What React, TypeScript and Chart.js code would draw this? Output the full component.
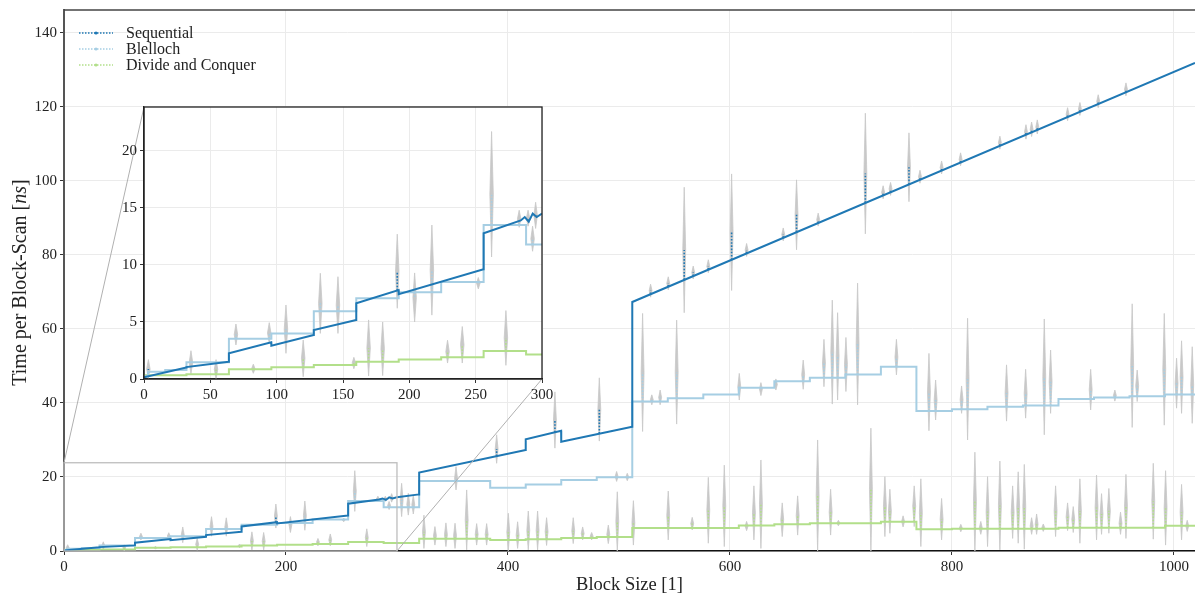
import React, { useEffect, useRef } from "react";
import { Chart, registerables } from "chart.js";

Chart.register(...registerables);

// ---------- data ----------
const xTicks = [0, 200, 400, 600, 800, 1000];
const yTicks = [0, 20, 40, 60, 80, 100, 120, 140];
const insetXTicks = [0, 50, 100, 150, 200, 250, 300];
const insetYTicks = [0, 5, 10, 15, 20];
const xRange = [0, 1019];
const yRange = [0, 146.2];
const zoomXRange = [0, 300];
const zoomYRange = [0, 23.85];

const seriesNames = ["Sequential", "Blelloch", "Divide and Conquer"];
const xTitle = "Block Size [1]";
const yTitleParts = ["Time per Block-Scan [", "ns", "]"];

// Sequential: piecewise linear mean [block size, ns]
const sequential: [number, number][] = [
  [0, 0.15], [31.9, 1.0], [32, 1.05], [63.9, 1.52], [64, 2.25], [95.9, 3.22], [96, 2.92],
  [127.9, 3.86], [128, 4.3], [159.9, 5.18], [160, 6.64], [191.9, 7.8], [192, 7.43],
  [255.9, 9.62], [256, 12.78], [284, 13.9], [287, 14.2], [290, 13.8], [293, 14.5],
  [296, 14.2], [300, 14.5], [319.9, 15.3], [320, 21.2], [415.9, 27.3], [416, 30.2],
  [447.9, 32.5], [448, 29.5], [511.9, 33.6], [512, 67.3], [1019, 131.9],
];

// Blelloch: step levels [start block size, ns]
const blelloch: [number, number][] = [
  [0, 0.25], [3, 0.64], [16, 0.8], [32, 1.46], [64, 3.54], [96, 4.0], [128, 5.94],
  [160, 7.08], [192, 7.6], [224, 8.5], [256, 13.5], [288, 11.8], [320, 18.9],
  [384, 17.1], [416, 18.0], [448, 19.2], [480, 19.9], [512, 40.4], [544, 41.3],
  [576, 42.3], [608, 44.1], [640, 45.9], [672, 46.8], [704, 47.7], [736, 49.8],
  [768, 37.8], [800, 38.3], [832, 39.0], [864, 39.3], [896, 41.1], [928, 41.5],
  [960, 41.8], [992, 42.3], [1019, 42.3],
];

// Divide and Conquer: step levels [start block size, ns]
const divideConquer: [number, number][] = [
  [0, 0.32], [32, 0.42], [64, 0.85], [96, 1.02], [128, 1.23], [160, 1.52], [192, 1.72],
  [224, 1.9], [256, 2.45], [288, 2.15], [320, 3.3], [384, 3.0], [416, 3.2], [448, 3.5],
  [480, 3.8], [512, 6.2], [608, 6.9], [640, 7.2], [672, 7.5], [736, 7.9], [768, 5.85],
  [800, 6.0], [896, 6.3], [992, 6.8], [1019, 6.8],
];

// variance spikes [block size, low, high]
const sequentialSpikes: [number, number, number][] = [
  [3.3, 0.05, 1.7], [190.9, 6.2, 12.7], [289.5, 13.4, 14.8], [295.2, 13.2, 15.5],
  [389.8, 23.7, 31.4], [442.3, 27.8, 43], [482.3, 29.7, 46.8],
  [528.5, 68.6, 72.1], [544.4, 70.6, 74.1], [558.8, 64.4, 98.3], [566.9, 73.5, 77.0],
  [580.5, 75.2, 78.7], [601.5, 70.4, 101.9], [615, 79.6, 83.1], [648, 83.8, 87.3],
  [660, 81.4, 100.3], [679.5, 87.8, 91.3], [722, 85.7, 118.3], [738, 95.2, 98.7],
  [744.7, 96.1, 99.6], [761.3, 94.4, 113], [771.2, 99.4, 102.9], [790.7, 101.9, 105.4],
  [807.8, 104.1, 107.6], [843.2, 108.6, 112.1], [866.7, 111.3, 115.2],
  [871.8, 112.0, 115.9], [876.9, 112.7, 116.5], [904.2, 116.3, 119.8],
  [915.3, 117.7, 121.2], [931.8, 119.8, 123.3], [956.8, 123.0, 126.5],
];

const blellochSpikes: [number, number, number][] = [
  [35.4, 0.44, 2.48], [69.3, 2.98, 4.82], [94.4, 3.13, 4.94], [107, 2.25, 6.49],
  [132.9, 4.0, 9.27], [146.2, 4.0, 8.97], [204, 5.0, 9.3], [217, 5.6, 13.5],
  [252, 7.9, 8.9], [262, 10.7, 21.7], [282.8, 13.3, 14.8], [292.9, 11.2, 13.4],
  [304.2, 9.3, 18.3], [310.2, 9.7, 15.6], [314.7, 10, 15], [353.2, 16.5, 22.8],
  [497.9, 18.8, 21.5], [507.5, 19, 21], [521.3, 32.3, 64.2], [529.6, 39.5, 42.2],
  [537.1, 39.5, 43.5], [552, 34.3, 62.4], [608.4, 40.8, 48], [627.9, 42, 45.5],
  [641.4, 43.5, 46.5], [666, 43.7, 51.6], [684.7, 44.4, 57.2], [692.2, 39.7, 67.8],
  [697, 40.8, 64.4], [704.5, 43.1, 57.7], [715, 39.5, 72.4], [750, 47.6, 57.2],
  [779.3, 32.5, 53.4], [785.3, 35.4, 46.2], [808.7, 37.2, 44.6], [814.1, 30, 62.9],
  [849.2, 35.1, 50.3], [866.4, 35.9, 49.1], [883.2, 31.4, 62.7], [888.9, 37.2, 54.3],
  [925, 38.1, 49.1], [946.8, 40.5, 43.5], [962.4, 33.4, 66.8], [966.9, 40.4, 48.9],
  [991.3, 34, 64.2], [1002.4, 38.6, 52.1], [1006.9, 37.2, 56.8], [1016.5, 34.5, 55.2],
];

const divideConquerSpikes: [number, number, number][] = [
  [54.3, 0, 1.7], [82.4, 0.5, 1.3], [120, 0.2, 3.42], [158.2, 0.9, 1.9],
  [169.3, 0.26, 5.18], [179.9, 0.3, 5.0], [228.8, 1.4, 3.4], [239.9, 1.4, 4.6],
  [272.8, 1.2, 6.0], [324.3, 0.7, 9.7], [334.2, 1.6, 6.6], [344.1, 1.2, 7.6],
  [352.3, 0.7, 7.5], [362.8, 0.3, 16.5], [371.8, 1.6, 7.4], [380.8, 1.6, 7.4],
  [400.3, 0, 10.2], [408.7, 0.7, 7.9], [418.3, 0.3, 10.8], [426.7, 0.3, 10.8],
  [434.8, 1.5, 9], [458.8, 2, 9], [467.3, 3, 6.5], [475.4, 3, 5], [490.4, 2, 7],
  [498.5, 0, 16], [513, 1.6, 13.6], [544.4, 3, 16.2], [566, 5.7, 9.1],
  [580.5, 2.1, 19.9], [594.9, 1.2, 23.2], [615, 5.5, 8], [621.6, 3, 17.6],
  [627.9, 0.7, 24.6], [647.1, 3.9, 13], [661, 4.3, 14.9], [679, 0, 30],
  [690.7, 4.3, 16.7], [697.7, 6.8, 8.3], [727, 0, 33.2], [739.6, 3.9, 20.1],
  [744.1, 4.8, 16.7], [756, 6.5, 9.5], [766, 6.6, 17.6], [772, 1.2, 19.5],
  [790.7, 3, 14.2], [808, 5.2, 7.2], [820.7, 0, 26.7], [826, 4.5, 8],
  [832.1, 1.2, 20.1], [843.2, 0.3, 24.3], [854.7, 3.4, 17.6], [859.7, 2.1, 21.4],
  [865.2, 0.5, 23.4], [871.8, 4.5, 9], [876.3, 4.5, 10], [882.3, 5.3, 7.3],
  [893.4, 3.9, 17.6], [904.2, 5.5, 13], [909.3, 5, 12], [915.3, 2.1, 19.5],
  [930.3, 3, 20.5], [934.8, 4.5, 15.5], [941.4, 4.8, 16.9], [951.9, 4.5, 10.5],
  [956.8, 3.4, 20.7], [981.4, 3.2, 23.7], [992.5, 1.6, 21.7], [1006.9, 3, 18],
  [1012, 5.3, 8.3],
];

// ---------- styles ----------
const FONT = "'Liberation Serif', 'DejaVu Serif', serif";
const COLORS = ["#1f78b4", "#a6cee3", "#b2df8a"];
const GRAY = "#c8c8c8";
const GRID = "#ebebeb";
const TEXT = "#222";
const SPIKE_HALF_WIDTH = 1.3;

const INSET = { left: 144, top: 107, right: 542, bottom: 379, yAxisW: 34, xAxisH: 26, padTop: 7, padRight: 14 };

function valueAt(series: [number, number][], x: number, stepped: boolean) {
  if (stepped) {
    let v = series[0][1];
    for (const [px, py] of series) {
      if (px <= x) v = py;
      else break;
    }
    return v;
  }
  for (let i = 1; i < series.length; i++) {
    const [x0, y0] = series[i - 1];
    const [x1, y1] = series[i];
    if (x <= x1) return y0 + ((y1 - y0) * (x - x0)) / (x1 - x0);
  }
  return series[series.length - 1][1];
}

function buildDatasets() {
  const defs = [
    { label: seriesNames[0], data: sequential, spikes: sequentialSpikes, color: COLORS[0], stepped: false, width: 2, order: 1 },
    { label: seriesNames[1], data: blelloch, spikes: blellochSpikes, color: COLORS[1], stepped: true, width: 2, order: 2 },
    { label: seriesNames[2], data: divideConquer, spikes: divideConquerSpikes, color: COLORS[2], stepped: true, width: 2, order: 3 },
  ];
  const ds: any[] = [];
  defs.forEach((d) => {
    const band: any[] = [];
    const mean: any[] = [];
    d.spikes.forEach(([x, lo, hi]) => {
      const c = (lo + hi) / 2;
      const W = SPIKE_HALF_WIDTH;
      band.push({ x, y: lo }, { x: x - W, y: c }, { x, y: hi }, { x: x + W, y: c }, { x, y: lo }, { x, y: null });
      mean.push({ x, y: valueAt(d.data, x, d.stepped) }, { x, y: c }, { x, y: null });
    });
    ds.push({
      label: d.label + " band", data: band, borderColor: GRAY, backgroundColor: GRAY,
      borderWidth: 0.8, pointRadius: 0, fill: "shape", spanGaps: false, order: 20,
    });
    ds.push({
      label: d.label + " mean spikes", data: mean, borderColor: d.color, borderWidth: 1.6,
      borderDash: [1.6, 1.6], pointRadius: 0, fill: false, spanGaps: false, order: 10,
    });
    ds.push({
      label: d.label, data: d.data.map(([x, y]) => ({ x, y })), borderColor: d.color,
      borderWidth: d.width, stepped: d.stepped, pointRadius: 0, fill: false, order: d.order,
    });
  });
  return ds;
}

const mainDecor = {
  id: "mainDecor",
  afterDatasetsDraw(chart: any) {
    const { ctx, scales } = chart;
    const xs = scales.x;
    const ys = scales.y;
    ctx.save();
    const x0 = xs.getPixelForValue(zoomXRange[0]);
    const x1 = xs.getPixelForValue(zoomXRange[1]);
    const y0 = ys.getPixelForValue(zoomYRange[0]);
    const y1 = ys.getPixelForValue(zoomYRange[1]);
    ctx.strokeStyle = "#bdbdbd";
    ctx.lineWidth = 1.3;
    ctx.strokeRect(x0, y1, x1 - x0, y0 - y1);
    ctx.lineWidth = 1;
    ctx.strokeStyle = "#b0b0b0";
    ctx.beginPath();
    ctx.moveTo(x0, y1);
    ctx.lineTo(INSET.left, INSET.top);
    ctx.moveTo(x1, y0);
    ctx.lineTo(INSET.right, INSET.bottom);
    ctx.stroke();
    ctx.restore();
  },
  afterDraw(chart: any) {
    const { ctx, chartArea } = chart;
    ctx.save();
    ctx.strokeStyle = "#444";
    ctx.lineWidth = 1.5;
    ctx.beginPath();
    ctx.moveTo(chartArea.left, chartArea.top);
    ctx.lineTo(chartArea.right, chartArea.top);
    ctx.stroke();
    // legend
    ctx.font = `16px ${FONT}`;
    ctx.textBaseline = "middle";
    seriesNames.forEach((name, i) => {
      const y = chartArea.top + 23 + i * 16;
      const lx = chartArea.left + 15;
      ctx.strokeStyle = COLORS[i];
      ctx.lineWidth = 1.5;
      ctx.setLineDash([1.5, 1.5]);
      ctx.beginPath();
      ctx.moveTo(lx, y);
      ctx.lineTo(lx + 34, y);
      ctx.stroke();
      ctx.setLineDash([]);
      ctx.fillStyle = COLORS[i];
      ctx.beginPath();
      ctx.arc(lx + 17, y, 1.6, 0, Math.PI * 2);
      ctx.fill();
      ctx.fillStyle = TEXT;
      ctx.textAlign = "left";
      ctx.fillText(name, lx + 47, y + 0.5);
    });
    // axis titles
    ctx.font = `18.5px ${FONT}`;
    ctx.textAlign = "center";
    ctx.textBaseline = "middle";
    ctx.fillStyle = TEXT;
    ctx.fillText(xTitle, (chartArea.left + chartArea.right) / 2, 585);
    ctx.translate(21, (chartArea.top + chartArea.bottom) / 2 + 2);
    ctx.rotate(-Math.PI / 2);
    const fonts = [`20px ${FONT}`, `italic 20px ${FONT}`, `20px ${FONT}`];
    const widths = yTitleParts.map((t, i) => { ctx.font = fonts[i]; return ctx.measureText(t).width; });
    let pos = -widths.reduce((a, b) => a + b, 0) / 2;
    ctx.textAlign = "left";
    yTitleParts.forEach((t, i) => {
      ctx.font = fonts[i];
      ctx.fillText(t, pos, 0);
      pos += widths[i];
    });
    ctx.restore();
  },
};

const insetDecor = {
  id: "insetDecor",
  beforeDraw(chart: any) {
    const { ctx, chartArea } = chart;
    ctx.save();
    ctx.fillStyle = "#ffffff";
    ctx.fillRect(chartArea.left, chartArea.top, chartArea.right - chartArea.left, chartArea.bottom - chartArea.top);
    ctx.restore();
  },
  afterDraw(chart: any) {
    const { ctx, chartArea } = chart;
    ctx.save();
    ctx.strokeStyle = "#222";
    ctx.lineWidth = 1.3;
    ctx.strokeRect(chartArea.left, chartArea.top, chartArea.right - chartArea.left, chartArea.bottom - chartArea.top);
    ctx.restore();
  },
};

function axis(min: number, max: number, ticks: number[], fit: (s: any) => void, borderColor: string, borderWidth: number) {
  return {
    type: "linear",
    min,
    max,
    afterBuildTicks: (s: any) => { s.ticks = ticks.map((v) => ({ value: v })); },
    afterFit: fit,
    grid: { color: GRID, lineWidth: 1, tickColor: "#333", tickLength: 4, drawTicks: true },
    border: { display: true, color: borderColor, width: borderWidth },
    ticks: {
      font: { family: FONT, size: 15 }, color: TEXT, padding: 3, maxRotation: 0, autoSkip: false,
      callback: (v: number) => String(v),
    },
  };
}

export default function App() {
  const mainRef = useRef<HTMLCanvasElement>(null);
  const insetRef = useRef<HTMLCanvasElement>(null);

  useEffect(() => {
    const main = new Chart(mainRef.current as HTMLCanvasElement, {
      type: "line",
      data: { datasets: buildDatasets() },
      options: {
        animation: false,
        responsive: false,
        devicePixelRatio: 1,
        events: [],
        layout: { padding: { top: 10, right: 0, left: 0, bottom: 0 } },
        plugins: { legend: { display: false }, tooltip: { enabled: false } },
        scales: {
          x: axis(xRange[0], xRange[1], xTicks, (s: any) => { s.height = 45; s.paddingLeft = 0; s.paddingRight = 0; }, "#111", 1.5),
          y: axis(yRange[0], yRange[1], yTicks, (s: any) => { s.width = 64; s.paddingTop = 0; s.paddingBottom = 0; }, "#555", 2),
        },
      } as any,
      plugins: [mainDecor],
    });
    const inset = new Chart(insetRef.current as HTMLCanvasElement, {
      type: "line",
      data: { datasets: buildDatasets() },
      options: {
        animation: false,
        responsive: false,
        devicePixelRatio: 1,
        events: [],
        layout: { padding: { top: INSET.padTop, right: INSET.padRight, left: 0, bottom: 0 } },
        plugins: { legend: { display: false }, tooltip: { enabled: false } },
        scales: {
          x: axis(zoomXRange[0], zoomXRange[1], insetXTicks, (s: any) => { s.height = INSET.xAxisH; s.paddingLeft = 0; s.paddingRight = 0; }, "#222", 1.3),
          y: axis(zoomYRange[0], zoomYRange[1], insetYTicks, (s: any) => { s.width = INSET.yAxisW; s.paddingTop = 0; s.paddingBottom = 0; }, "#222", 1.3),
        },
      } as any,
      plugins: [insetDecor],
    });
    return () => {
      main.destroy();
      inset.destroy();
    };
  }, []);

  const insetW = INSET.right - INSET.left + INSET.yAxisW + INSET.padRight;
  const insetH = INSET.bottom - INSET.top + INSET.padTop + INSET.xAxisH;

  return (
    <div style={{ position: "absolute", left: 0, top: 0, width: 1195, height: 596, background: "#fff" }}>
      <canvas ref={mainRef} width={1195} height={596} style={{ position: "absolute", left: 0, top: 0, width: 1195, height: 596 }} />
      <canvas
        ref={insetRef}
        width={insetW}
        height={insetH}
        style={{ position: "absolute", left: INSET.left - INSET.yAxisW, top: INSET.top - INSET.padTop, width: insetW, height: insetH }}
      />
    </div>
  );
}
